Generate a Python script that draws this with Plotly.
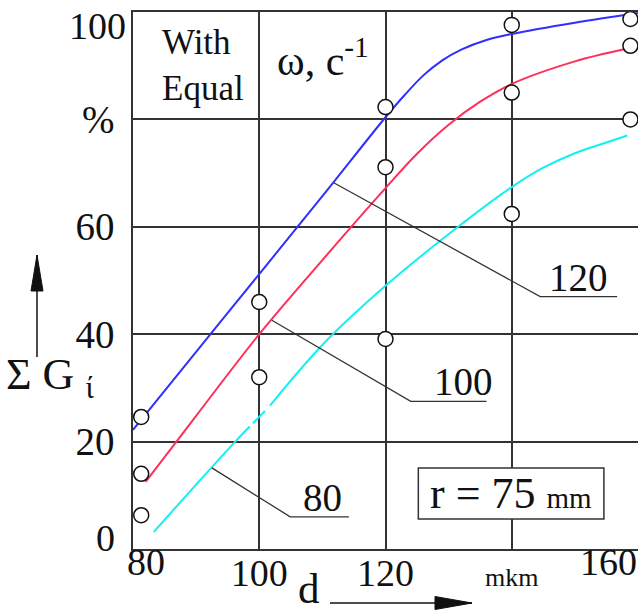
import plotly.graph_objects as go

# ---------------- data ----------------
blue_d = [80, 90, 100, 110, 120, 123, 126, 129, 132, 136, 140, 150, 160]
blue_g = [22.2, 36.7, 51.2, 65.7, 80.4, 84.5, 88.2, 91.0, 93.0, 94.8, 95.9, 98.0, 99.8]

red_d = [82, 90, 100, 110, 120, 125, 130, 135, 140, 150, 158]
red_g = [12.5, 24.8, 40.0, 53.8, 67.2, 73.6, 79.0, 83.3, 86.6, 90.8, 93.1]

# the cyan curve is broken twice near d = 100 in the original (None = gap)
cyan_d = [83.3, 90, 96.2, 98.5, None, 99.0, 100, 100.9, None, 101.7, 110, 120, 131.5, 140, 145, 150, 155, 158.3]
cyan_g = [3.2, 12.0, 20.0, 22.8, None, 23.4, 24.6, 25.7, None, 26.7, 38.0, 49.0, 60.0, 67.4, 71.0, 73.7, 75.7, 77.0]

exp_d = [81.3, 81.3, 81.3, 100, 100, 120, 120, 120, 140, 140, 140, 158.8, 158.8, 158.8]
exp_g = [24.6, 14.0, 6.3, 46.0, 32.0, 82.3, 71.1, 39.1, 97.6, 85.0, 62.4, 98.7, 93.7, 80.0]

# leader lines (curve label callouts): omega = 120, 100, 80
lead120_d = [111.8, 144.5, 156.7]
lead120_g = [68.2, 47.0, 47.0]
lead100_d = [102.0, 124.0, 136.0]
lead100_g = [42.6, 27.5, 27.5]
lead80_d = [92.5, 104.9, 114.2]
lead80_g = [15.1, 6.0, 6.0]

x_ticks = [100, 120, 140]
x_ticktext = ["100", "120", "<span style='font-size:26px'>mkm</span>"]
y_ticks = [20, 40, 60, 80]
y_ticktext = ["20", "40", "60", "%"]

FONT = "Liberation Serif"
INK = "#111111"
GRID = "#333333"

W, H = 638, 615
ML, MR, MT, MB = 133, 0, 12, 66
PW, PH = W - ML - MR, H - MT - MB


def px(xpix):
    return (xpix - ML) / PW


def py(ypix):
    return (H - MB - ypix) / PH


fig = go.Figure()

spl = dict(width=2, shape="spline", smoothing=1.0)
fig.add_trace(go.Scatter(x=blue_d, y=blue_g, mode="lines", line=dict(color="#2f2fff", **spl), hoverinfo="skip"))
fig.add_trace(go.Scatter(x=red_d, y=red_g, mode="lines", line=dict(color="#ff2f5a", **spl), hoverinfo="skip"))
fig.add_trace(go.Scatter(x=cyan_d, y=cyan_g, mode="lines", connectgaps=False, line=dict(color="#14f0f0", **spl), hoverinfo="skip"))

for ld, lg in [(lead120_d, lead120_g), (lead100_d, lead100_g), (lead80_d, lead80_g)]:
    fig.add_trace(go.Scatter(x=ld, y=lg, mode="lines", line=dict(color=GRID, width=1.3), hoverinfo="skip"))

fig.add_trace(go.Scatter(x=exp_d, y=exp_g, mode="markers", cliponaxis=False,
                         marker=dict(symbol="circle", size=15, color="white", line=dict(color=INK, width=1.5)),
                         hoverinfo="skip"))

fig.update_layout(
    width=W, height=H,
    margin=dict(l=ML, r=MR, t=MT, b=MB, pad=0),
    paper_bgcolor="white", plot_bgcolor="white",
    showlegend=False,
    font=dict(family=FONT, color=INK, size=38),
    xaxis=dict(range=[80, 160], tickvals=x_ticks, ticktext=x_ticktext, showgrid=True, automargin=False,
               gridcolor=GRID, gridwidth=1.5, showline=True, linecolor=GRID, linewidth=1.5,
               mirror=True, zeroline=False, ticks="", ticklabelstandoff=-10,
               tickfont=dict(family=FONT, size=38, color=INK)),
    yaxis=dict(range=[0, 100], tickvals=y_ticks, ticktext=y_ticktext, showgrid=True, automargin=False,
               gridcolor=GRID, gridwidth=1.5, showline=True, linecolor=GRID, linewidth=1.5,
               mirror=True, zeroline=False, ticks="", ticklabelstandoff=9,
               tickfont=dict(family=FONT, size=39, color=INK)),
)

ann = []
# edge tick labels (shifted inward as in the original)
ann.append(dict(x=80, y=0, xref="x", yref="paper", text="80", showarrow=False, xanchor="center", yanchor="top", xshift=13, yshift=10, font=dict(size=38)))
ann.append(dict(x=160, y=0, xref="x", yref="paper", text="160", showarrow=False, xanchor="center", yanchor="top", xshift=-30, yshift=10, font=dict(size=38)))
ann.append(dict(x=0, y=100, xref="paper", yref="y", text="100", showarrow=False, xanchor="right", yanchor="middle", xshift=-5, yshift=-14, font=dict(size=38)))
ann.append(dict(x=0, y=0, xref="paper", yref="y", text="0", showarrow=False, xanchor="right", yanchor="middle", xshift=-16, yshift=11, font=dict(size=38)))

# in-plot texts
ann.append(dict(x=91.1, y=90.1, xref="x", yref="y", text="With<br>Equal", showarrow=False, align="left", font=dict(size=35)))
ann.append(dict(x=110.1, y=91.6, xref="x", yref="y", text="ω, c<sup>-1</sup>", showarrow=False, font=dict(size=42)))
ann.append(dict(x=150.5, y=47.0, xref="x", yref="y", text="120", showarrow=False, yanchor="bottom", yshift=-4, font=dict(size=39)))
ann.append(dict(x=132.3, y=27.5, xref="x", yref="y", text="100", showarrow=False, yanchor="bottom", yshift=-4, font=dict(size=39)))
ann.append(dict(x=110.0, y=6.0, xref="x", yref="y", text="80", showarrow=False, yanchor="bottom", yshift=-4, font=dict(size=39)))
ann.append(dict(x=139.9, y=10.4, xref="x", yref="y", text="r = 75 <span style='font-size:29px'>mm</span>", showarrow=False, font=dict(size=44)))

# axis titles
ann.append(dict(x=px(309), y=py(614), xref="paper", yref="paper", text="d", showarrow=False, yanchor="bottom", font=dict(size=43)))
ann.append(dict(x=px(4), y=py(407), xref="paper", yref="paper", text="Σ G <sub>ί</sub>", showarrow=False, xanchor="left", font=dict(size=44)))
fig.update_layout(annotations=ann)

# boxed r label
fig.add_shape(type="rect", xref="x", yref="y", x0=125.2, x1=154.6, y0=5.6, y1=15.1,
              fillcolor="white", line=dict(color=GRID, width=1.5), layer="above")


# arrows next to axis titles
def arrow(x0, y0, x1, y1, head_len, head_w):
    fig.add_shape(type="line", xref="paper", yref="paper", x0=px(x0), y0=py(y0), x1=px(x1), y1=py(y1),
                  line=dict(color=INK, width=1.5), layer="above")
    if y0 == y1:
        bx = x1 - head_len
        path = f"M {px(x1)} {py(y1)} L {px(bx)} {py(y1 - head_w / 2)} L {px(bx)} {py(y1 + head_w / 2)} Z"
    else:
        by = y1 + head_len
        path = f"M {px(x1)} {py(y1)} L {px(x1 - head_w / 2)} {py(by)} L {px(x1 + head_w / 2)} {py(by)} Z"
    fig.add_shape(type="path", xref="paper", yref="paper", path=path, fillcolor=INK,
                  line=dict(color=INK, width=1), layer="above")


arrow(330, 603, 472, 603, 37, 13)
arrow(37, 357, 37, 255, 36, 12)

fig.write_html("out.html", config={"displayModeBar": False},
               post_script="document.body.style.margin='0';document.body.style.overflow='hidden';")
